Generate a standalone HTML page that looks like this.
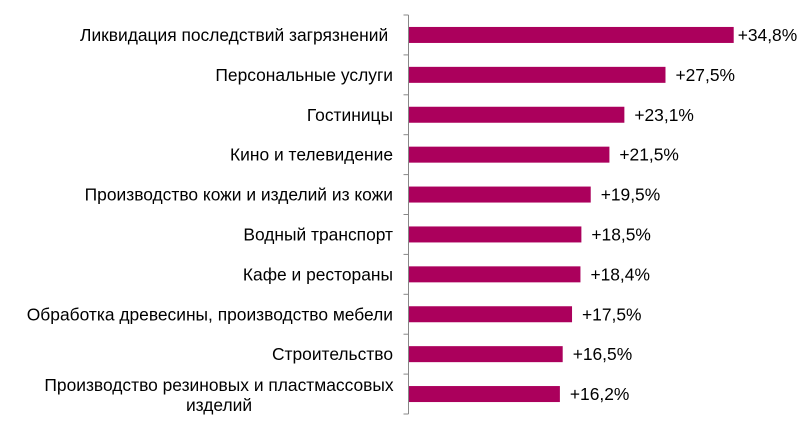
<!DOCTYPE html>
<html><head><meta charset="utf-8"><style>
html,body{margin:0;padding:0;background:#fff;}
svg{display:block;font-family:"Liberation Sans",Arial,sans-serif;}
</style></head><body>
<svg id="chart" width="800" height="429" viewBox="0 0 800 429" xmlns="http://www.w3.org/2000/svg"></svg>
<script>
const categories = [
  ["Ликвидация последствий загрязнений "],
  ["Персональные услуги"],
  ["Гостиницы"],
  ["Кино и телевидение"],
  ["Производство кожи и изделий из кожи"],
  ["Водный транспорт"],
  ["Кафе и рестораны"],
  ["Обработка древесины, производство мебели"],
  ["Строительство"],
  ["Производство резиновых и пластмассовых", "изделий"]
];
const values = [34.8, 27.5, 23.1, 21.5, 19.5, 18.5, 18.4, 17.5, 16.5, 16.2];
const valueLabels = ["+34,8%","+27,5%","+23,1%","+21,5%","+19,5%","+18,5%","+18,4%","+17,5%","+16,5%","+16,2%"];

const svg = document.getElementById('chart');
const NS = 'http://www.w3.org/2000/svg';
const x0 = 408.5, pxPer = 9.345, topY = 15, band = 39.9, barH = 16;
const xScale = v => x0 + v * pxPer;
const yBand = i => topY + i * band;

function mk(tag, attrs){ const e = document.createElementNS(NS, tag); for (const k in attrs) e.setAttribute(k, attrs[k]); svg.appendChild(e); return e; }

const axis = mk('line', {x1:x0, y1:topY, x2:x0, y2:topY + categories.length*band, stroke:'#888', 'stroke-width':1});


for (let i = 0; i <= categories.length; i++) {
  const t = mk('line', {x1:x0-5, y1:yBand(i), x2:x0, y2:yBand(i), stroke:'#888', 'stroke-width':1});
  
  
}

categories.forEach((lines, i) => {
  const cy = yBand(i) + band/2;
  const bar = mk('rect', {x:x0+0.5, y:cy - barH/2, width:xScale(values[i]) - x0 - 0.5, height:barH, fill:'#ab005c'});
  
  

  const lab = mk('text', {'font-size':17.4, fill:'#000'});
  
  
  lab.setAttribute('xml:space', 'preserve');
  lab.style.whiteSpace = 'pre';
  if (lines.length === 1) {
    lab.setAttribute('x', 393); lab.setAttribute('y', cy + 6); lab.setAttribute('text-anchor', 'end');
    lab.textContent = lines[0];
  } else {
    lab.setAttribute('text-anchor', 'middle');
    lines.forEach((ln, j) => {
      const ts = document.createElementNS(NS, 'tspan');
      ts.setAttribute('x', 219); ts.setAttribute('y', cy - 3 + j*20);
      ts.textContent = ln; lab.appendChild(ts);
    });
  }

  let vx = xScale(values[i]) + 10;
  if (vx > 738) vx = xScale(values[i]) + 4;
  const vl = mk('text', {x:vx, y:cy + 6, 'font-size':17.4, fill:'#000'});
  
  
  vl.textContent = valueLabels[i];
});
</script>
</body></html>
